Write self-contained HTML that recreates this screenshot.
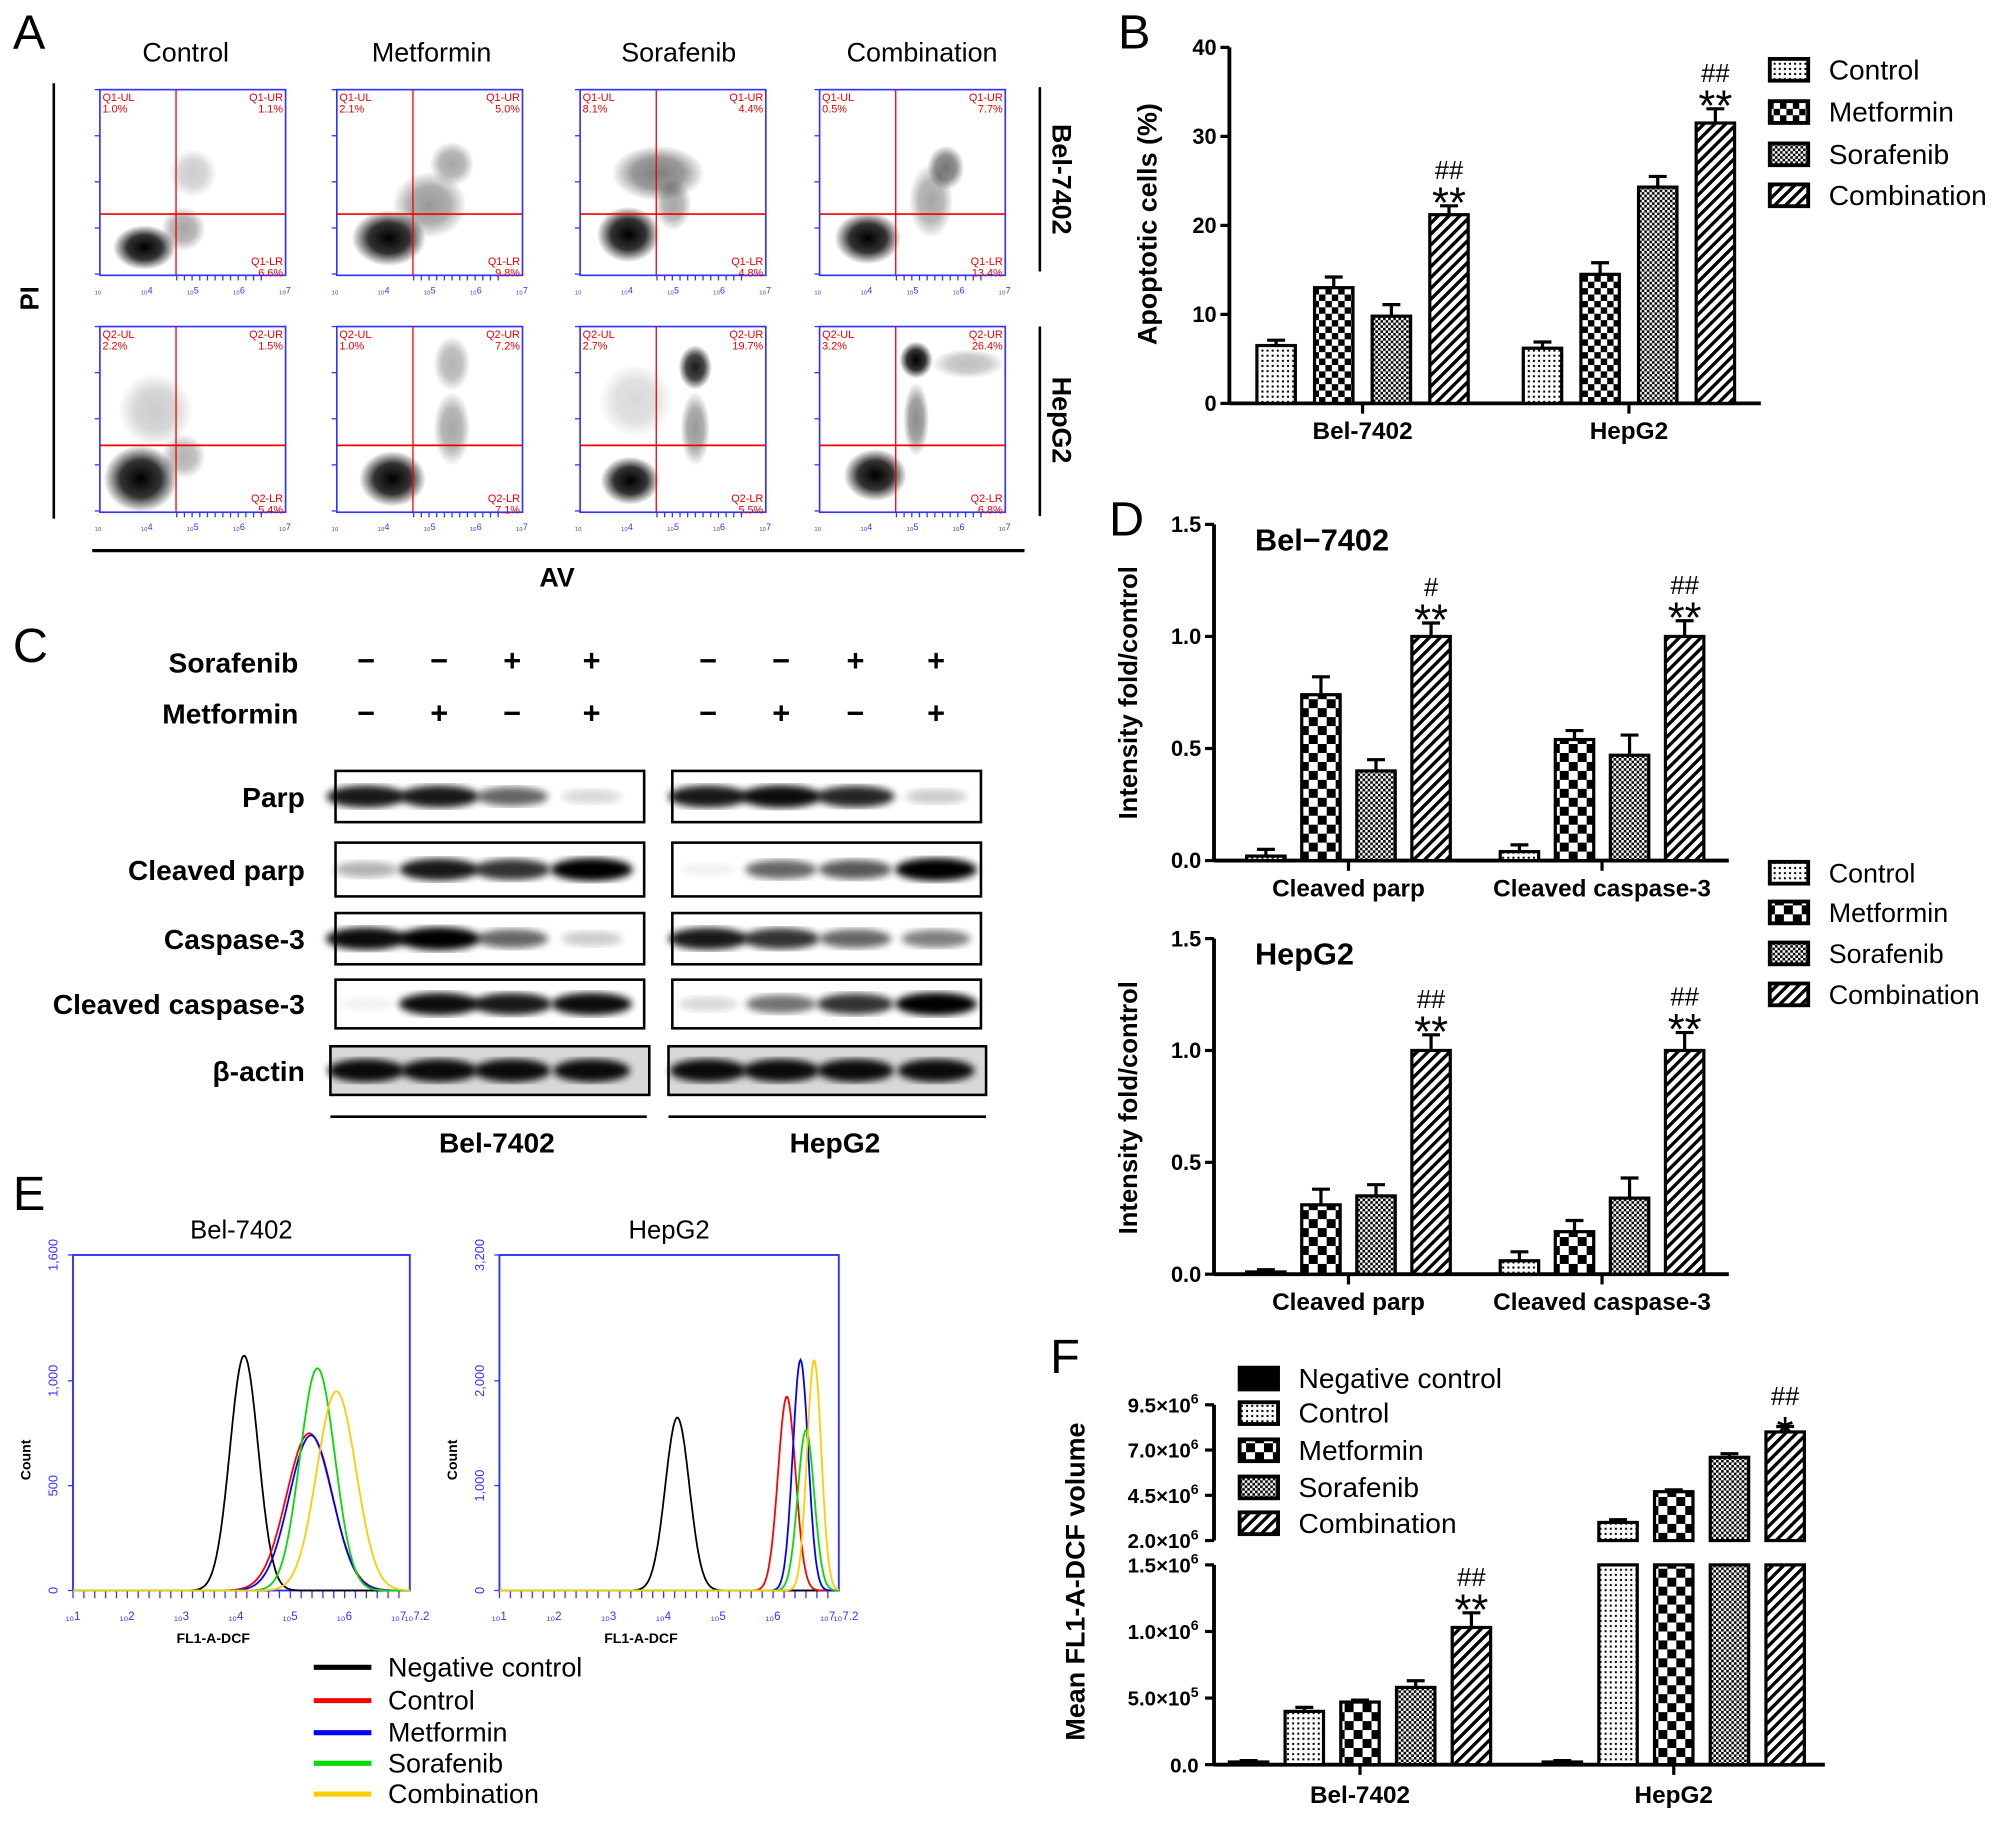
<!DOCTYPE html>
<html><head><meta charset="utf-8">
<style>
html,body{margin:0;padding:0;background:#fff;}
svg{display:block;font-family:"Liberation Sans",Arial,sans-serif;}
</style></head>
<body>
<svg id="fig" width="2008" height="1821" viewBox="0 0 1568 1422" xmlns="http://www.w3.org/2000/svg">
<defs>
<pattern id="pDots" width="4" height="4" patternUnits="userSpaceOnUse"><rect width="4" height="4" fill="#fff"/><rect x="1" y="1" width="1.6" height="1.6" fill="#000"/></pattern>
<pattern id="pBig" width="14" height="14" patternUnits="userSpaceOnUse"><rect width="14" height="14" fill="#fff"/><rect width="7" height="7" fill="#000"/><rect x="7" y="7" width="7" height="7" fill="#000"/></pattern>
<pattern id="pMid" width="10" height="10" patternUnits="userSpaceOnUse"><rect width="10" height="10" fill="#fff"/><rect width="5" height="5" fill="#000"/><rect x="5" y="5" width="5" height="5" fill="#000"/></pattern>
<pattern id="pFine" width="4" height="4" patternUnits="userSpaceOnUse"><rect width="4" height="4" fill="#fff"/><rect width="2" height="2" fill="#000"/><rect x="2" y="2" width="2" height="2" fill="#000"/></pattern>
<pattern id="pStripe" width="6" height="6" patternUnits="userSpaceOnUse" patternTransform="rotate(45)"><rect width="6" height="6" fill="#fff"/><rect width="2.6" height="6" fill="#000"/></pattern>
<radialGradient id="gCl"><stop offset="0" stop-color="#000" stop-opacity="1"/><stop offset="0.55" stop-color="#000" stop-opacity="0.8"/><stop offset="1" stop-color="#000" stop-opacity="0"/></radialGradient>
<filter id="blur2"><feGaussianBlur stdDeviation="3"/></filter>
</defs>
<g id="root"></g>
</svg>
<script>
// ---------- data ----------
var conditions = ["Control","Metformin","Sorafenib","Combination"];
var flowBelUL = ["1.0%","2.1%","8.1%","0.5%"];
var flowBelUR = ["1.1%","5.0%","4.4%","7.7%"];
var flowBelLR = ["6.6%","9.8%","4.8%","13.4%"];
var flowHepUL = ["2.2%","1.0%","2.7%","3.2%"];
var flowHepUR = ["1.5%","7.2%","19.7%","26.4%"];
var flowHepLR = ["5.4%","7.1%","5.5%","6.8%"];
var clustersBel = [
 [[0.24,0.85,0.17,0.12,1],[0.45,0.75,0.12,0.12,0.35],[0.5,0.45,0.13,0.13,0.2]],
 [[0.28,0.8,0.2,0.15,1],[0.5,0.62,0.2,0.18,0.4],[0.62,0.4,0.12,0.12,0.35]],
 [[0.26,0.78,0.17,0.15,1],[0.42,0.45,0.25,0.15,0.5],[0.5,0.62,0.1,0.14,0.35]],
 [[0.26,0.8,0.18,0.14,1],[0.6,0.6,0.12,0.2,0.35],[0.68,0.42,0.1,0.12,0.55]]];
var clustersHep = [
 [[0.22,0.82,0.2,0.18,1],[0.3,0.45,0.2,0.2,0.2],[0.45,0.7,0.12,0.12,0.3]],
 [[0.3,0.82,0.18,0.15,1],[0.62,0.55,0.1,0.2,0.35],[0.62,0.2,0.1,0.15,0.3]],
 [[0.27,0.83,0.16,0.13,1],[0.62,0.22,0.09,0.12,0.9],[0.62,0.55,0.08,0.2,0.4],[0.3,0.4,0.2,0.2,0.15]],
 [[0.3,0.8,0.17,0.14,1],[0.52,0.18,0.09,0.1,1],[0.52,0.5,0.07,0.2,0.45],[0.8,0.2,0.2,0.08,0.25]]];

var bCategories = ["Bel-7402","HepG2"];
var bValues = [[6.5,13.0,9.8,21.2],[6.2,14.5,24.3,31.5]];
var bErrors = [[0.6,1.2,1.3,1.0],[0.7,1.3,1.2,1.6]];
var bTicks = [0,10,20,30,40];
var bMarks = [["","","","##\n**"],["","","","##\n**"]];

var dCategories = ["Cleaved parp","Cleaved caspase-3"];
var dBelValues = [[0.02,0.74,0.40,1.0],[0.04,0.54,0.47,1.0]];
var dBelErrors = [[0.03,0.08,0.05,0.06],[0.03,0.04,0.09,0.07]];
var dHepValues = [[0.01,0.31,0.35,1.0],[0.06,0.19,0.34,1.0]];
var dHepErrors = [[0.01,0.07,0.05,0.07],[0.04,0.05,0.09,0.08]];
var dTicks = [0,0.5,1.0,1.5];
var dTickLabels = ["0.0","0.5","1.0","1.5"];
var dBelMarks = [["","","","#\n**"],["","","","##\n**"]];
var dHepMarks = [["","","","##\n**"],["","","","##\n**"]];

var eBelPeaks = [[4.15,1120,0.26],[5.35,750,0.42],[5.38,740,0.4],[5.5,1060,0.32],[5.85,950,0.36]];
var eHepPeaks = [[4.25,1650,0.22],[6.25,1850,0.16],[6.5,2200,0.14],[6.6,1530,0.15],[6.75,2200,0.13]];
var eSeries = ["Negative control","Control","Metformin","Sorafenib","Combination"];
var eColors = ["#000","#f00","#00f","#0d0","#fc0"];

var fCategories = ["Bel-7402","HepG2"];
var fSeries = ["Negative control","Control","Metformin","Sorafenib","Combination"];
var fValues = [[0.02e6,0.40e6,0.47e6,0.58e6,1.03e6],[0.02e6,3.0e6,4.7e6,6.6e6,8.0e6]];
var fErrors = [[0.01e6,0.03e6,0.015e6,0.05e6,0.11e6],[0.01e6,0.15e6,0.1e6,0.2e6,0.3e6]];
var fLowTicks = [0,0.5e6,1.0e6,1.5e6];
var fLowLabels = ["0.0","5.0×10","1.0×10","1.5×10"];
var fLowExp = ["","5","6","6"];
var fHighTicks = [2.0e6,4.5e6,7.0e6,9.5e6];
var fHighLabels = ["2.0×10","4.5×10","7.0×10","9.5×10"];

var blotRows = ["Parp","Cleaved parp","Caspase-3","Cleaved caspase-3","β-actin"];
var blotIntensity = [
 [0.9,0.9,0.6,0.15, 0.9,0.95,0.85,0.2],
 [0.3,0.9,0.8,1.0, 0.05,0.6,0.65,1.0],
 [0.95,1.0,0.6,0.2, 0.9,0.8,0.6,0.5],
 [0.05,0.95,0.9,0.95, 0.15,0.55,0.8,1.0],
 [0.95,0.95,0.95,0.95, 0.95,0.95,0.95,0.95]];
var sorafenibSigns = ["−","−","+","+","−","−","+","+"];
var metforminSigns = ["−","+","−","+","−","+","−","+"];

// ---------- helpers ----------
var NS="http://www.w3.org/2000/svg";
var root=document.getElementById('root');
function el(tag,attrs,parent,text){var e=document.createElementNS(NS,tag);for(var k in attrs)e.setAttribute(k,attrs[k]);if(text!==undefined)e.textContent=text;(parent||root).appendChild(e);return e;}
function txt(x,y,s,size,opts,parent){opts=opts||{};var a={x:x,y:y,'font-size':size,fill:opts.fill||'#000','text-anchor':opts.anchor||'start'};if(opts.bold)a['font-weight']='bold';if(opts.transform)a.transform=opts.transform;var t=el('text',a,parent,s);return t;}
function group(name){var g=el('g',{});return g;}

// ---------- Panel A ----------
(function(){
 var g=group('panel-a');
 var t=txt(10,38,'A',38,{},g);
 var colX=[78,263,453,640], colT=[145,337,530,720], rowY=[70,255], W=145,H=145;
 conditions.forEach(function(c,i){var tt=txt(colT[i],48,c,21,{anchor:'middle'},g);});
 var sets=[[clustersBel,flowBelUL,flowBelUR,flowBelLR,'Q1',0.67],[clustersHep,flowHepUL,flowHepUR,flowHepLR,'Q2',0.64]];
 sets.forEach(function(s,r){
  for(var i=0;i<4;i++){
   var x0=colX[i],y0=rowY[r];
   var p=group('flow-plot-'+(r?'hepg2':'bel7402')+'-'+conditions[i].toLowerCase());
   g.appendChild(p);
   s[0][i].forEach(function(b){var e=el('ellipse',{cx:x0+b[0]*W,cy:y0+b[1]*H,rx:b[2]*W,ry:b[3]*H,fill:'url(#gCl)',opacity:b[4]},p);});
   el('rect',{x:x0,y:y0,width:W,height:H,fill:'none',stroke:'#33f','stroke-width':1.3},p);
   el('line',{x1:x0+0.41*W,y1:y0,x2:x0+0.41*W,y2:y0+H,stroke:'#e00','stroke-width':1},p);
   el('line',{x1:x0,y1:y0+s[5]*H,x2:x0+W,y2:y0+s[5]*H,stroke:'#e00','stroke-width':1.3},p);
   txt(x0+2,y0+9,s[4]+'-UL',8.5,{fill:'#e00'},p);txt(x0+2,y0+18,s[1][i],8.5,{fill:'#e00'},p);
   txt(x0+W-2,y0+9,s[4]+'-UR',8.5,{fill:'#e00',anchor:'end'},p);txt(x0+W-2,y0+18,s[2][i],8.5,{fill:'#e00',anchor:'end'},p);
   txt(x0+W-2,y0+H-8,s[4]+'-LR',8.5,{fill:'#e00',anchor:'end'},p);txt(x0+W-2,y0+H+1,s[3][i],8.5,{fill:'#e00',anchor:'end'},p);
   for(var k=0;k<5;k++){txt(x0-4+k*36,y0+H+14,'₁₀'+(k?k+3:''),7,{fill:'#33f'},p);}
   for(var k=0;k<5;k++){el('line',{x1:x0-4,y1:y0+k*36,x2:x0,y2:y0+k*36,stroke:'#33f'},p);}
   for(var k=0;k<12;k++){el('line',{x1:x0+60+k*6,y1:y0+H,x2:x0+60+k*6,y2:y0+H+4,stroke:'#33f'},p);}
  }
 });
 el('line',{x1:42,y1:65,x2:42,y2:405,stroke:'#000','stroke-width':2},g);
 var pi=txt(30,233,'PI',20,{bold:true,anchor:'middle',transform:'rotate(-90 30 233)'},g);
 el('line',{x1:812,y1:68,x2:812,y2:212,stroke:'#000','stroke-width':2},g);
 el('line',{x1:812,y1:255,x2:812,y2:403,stroke:'#000','stroke-width':2},g);
 txt(822,140,'Bel-7402',21,{bold:true,anchor:'middle',transform:'rotate(90 822 140)'},g);
 txt(822,328,'HepG2',21,{bold:true,anchor:'middle',transform:'rotate(90 822 328)'},g);
 el('line',{x1:72,y1:430,x2:800,y2:430,stroke:'#000','stroke-width':2.5},g);
 var av=txt(435,458,'AV',21,{bold:true,anchor:'middle'},g);
})();

// ---------- generic bar chart ----------
function barChart(g,cfg){
 var y=function(v){return cfg.y0-(v-cfg.vmin)*cfg.k;};
 el('line',{x1:cfg.ax,y1:y(cfg.vmax),x2:cfg.ax,y2:cfg.y0,stroke:'#000','stroke-width':3},g);
 el('line',{x1:cfg.ax,y1:cfg.y0,x2:cfg.xEnd,y2:cfg.y0,stroke:'#000','stroke-width':3},g);
 cfg.ticks.forEach(function(t,i){el('line',{x1:cfg.ax-7,y1:y(t),x2:cfg.ax,y2:y(t),stroke:'#000','stroke-width':2.5},g);var l=txt(cfg.ax-10,y(t)+6,cfg.tickLabels[i],17,{bold:true,anchor:'end'},g);});
 cfg.values.forEach(function(vals,gi){
  vals.forEach(function(v,bi){
   var cx=cfg.groupX[gi]+(bi-1.5)*cfg.step, top=y(v), e=cfg.errors[gi][bi];
   el('line',{x1:cx,y1:top,x2:cx,y2:y(v+e),stroke:'#000','stroke-width':2.5},g);
   el('line',{x1:cx-7,y1:y(v+e),x2:cx+7,y2:y(v+e),stroke:'#000','stroke-width':2.5},g);
   var r=el('rect',{x:cx-cfg.bw/2,y:top,width:cfg.bw,height:Math.max(1,cfg.y0-top),fill:cfg.pats[bi],stroke:'#000','stroke-width':2.5},g);
   
   
   var m=cfg.marks[gi][bi];
   if(m){var parts=m.split('\n');txt(cx,y(v+e)-21,parts[0],20,{anchor:'middle'},g);txt(cx,y(v+e)+9,parts[1],34,{anchor:'middle'},g);}
  });
  el('line',{x1:cfg.groupX[gi],y1:cfg.y0,x2:cfg.groupX[gi],y2:cfg.y0+8,stroke:'#000','stroke-width':2.5},g);
  var cl=txt(cfg.groupX[gi],cfg.y0+28,cfg.cats[gi],19,{bold:true,anchor:'middle'},g);
 });
}
function legend(g,x,ys,labels,pats,size){
 labels.forEach(function(l,i){var r=el('rect',{x:x,y:ys[i]-9,width:30,height:17,fill:pats[i],stroke:'#000','stroke-width':3},g);var t=txt(x+46,ys[i]+7,l,size,{},g);});
}

// ---------- Panel B ----------
(function(){
 var g=group('panel-b');
 txt(873,38,'B',38,{},g);
 barChart(g,{ax:960,y0:315,vmin:0,vmax:40,k:(315-37)/40,xEnd:1375,ticks:bTicks,tickLabels:bTicks.map(String),values:bValues,errors:bErrors,groupX:[1064,1272],step:45,bw:30,pats:['url(#pDots)','url(#pMid)','url(#pFine)','url(#pStripe)'],cats:bCategories,marks:bMarks});
 txt(903,175,'Apoptotic cells (%)',21,{bold:true,anchor:'middle',transform:'rotate(-90 903 175)'},g);
 legend(g,1382,[55,88,121,153],conditions,['url(#pDots)','url(#pMid)','url(#pFine)','url(#pStripe)'],22);
})();

// ---------- Panel C ----------
(function(){
 var g=group('panel-c');
 txt(10,517,'C',38,{},g);
 txt(233,525,'Sorafenib',22,{bold:true,anchor:'end'},g);
 txt(233,565,'Metformin',22,{bold:true,anchor:'end'},g);
 var laneX=[286,343,400,462,553,610,668,731];
 laneX.forEach(function(x,i){txt(x,524,sorafenibSigns[i],24,{anchor:'middle',bold:true},g);txt(x,565,metforminSigns[i],24,{anchor:'middle',bold:true},g);});
 var rowY=[[602,642],[658,700],[713,753],[765,803],[817,855]];
 blotRows.forEach(function(name,r){
  var y0=rowY[r][0],y1=rowY[r][1],wide=(r===4);
  var boxes=wide?[[258,507],[522,770]]:[[262,503],[525,766]];
  boxes.forEach(function(b){el('rect',{x:b[0],y:y0,width:b[1]-b[0],height:y1-y0,fill:wide?'#d8d8d8':'#fff',stroke:'#000','stroke-width':2},g);});
  laneX.forEach(function(x,i){var v=blotIntensity[r][i];var bw=wide?30:(22+10*v);var e=el('ellipse',{cx:x,cy:(y0+y1)/2,rx:bw,ry:wide?9:5+4*v,fill:'#000',opacity:v,filter:'url(#blur2)'},g);});
  var lbl=txt(238,(y0+y1)/2+8,name,22,{bold:true,anchor:'end'},g);
 });
 el('line',{x1:258,y1:872,x2:505,y2:872,stroke:'#000','stroke-width':2},g);
 el('line',{x1:522,y1:872,x2:770,y2:872,stroke:'#000','stroke-width':2},g);
 txt(388,900,'Bel-7402',22,{bold:true,anchor:'middle'},g);
 txt(652,900,'HepG2',22,{bold:true,anchor:'middle'},g);
})();

// ---------- Panel D ----------
(function(){
 var g=group('panel-d');
 txt(866,418,'D',38,{},g);
 var dp=['url(#pDots)','url(#pBig)','url(#pFine)','url(#pStripe)'];
 barChart(g,{ax:948,y0:672,vmin:0,vmax:1.5,k:175,xEnd:1350,ticks:dTicks,tickLabels:dTickLabels,values:dBelValues,errors:dBelErrors,groupX:[1053,1251],step:43,bw:30,pats:dp,cats:dCategories,marks:dBelMarks});
 barChart(g,{ax:948,y0:995,vmin:0,vmax:1.5,k:174.7,xEnd:1350,ticks:dTicks,tickLabels:dTickLabels,values:dHepValues,errors:dHepErrors,groupX:[1053,1251],step:43,bw:30,pats:dp,cats:dCategories,marks:dHepMarks});
 txt(980,430,'Bel−7402',24,{bold:true},g);
 txt(980,753,'HepG2',24,{bold:true},g);
 txt(888,541,'Intensity fold/control',20,{bold:true,anchor:'middle',transform:'rotate(-90 888 541)'},g);
 txt(888,865,'Intensity fold/control',20,{bold:true,anchor:'middle',transform:'rotate(-90 888 865)'},g);
 legend(g,1382,[682,713,745,777],conditions,dp,21);
})();

// ---------- Panel E ----------
(function(){
 var g=group('panel-e');
 txt(10,945,'E',38,{},g);
 function hist(x0,x1,title,peaks,ymax,ylabels,name){
  var p=group(name);g.appendChild(p);
  var y0=1242,yt=980;
  var xs=function(l){return x0+(l-1)/6.2*(x1-x0);};
  var ys=function(v){return y0-v/ymax*(y0-yt);};
  el('rect',{x:x0,y:yt,width:x1-x0,height:y0-yt,fill:'none',stroke:'#33f','stroke-width':1.5},p);
  txt((x0+x1)/2,967,title,20,{anchor:'middle'},p);
  ylabels.forEach(function(l){txt(x0-12,ys(l[0]),l[1],10,{fill:'#33f',anchor:'middle',transform:'rotate(-90 '+(x0-12)+' '+ys(l[0])+')'},p);el('line',{x1:x0-4,y1:ys(l[0]),x2:x0,y2:ys(l[0]),stroke:'#33f'},p);});
  for(var d=1;d<=7;d++){txt(xs(d)-6,1265,'₁₀'+d,9,{fill:'#33f'},p);}
  for(var d=1;d<7.2;d+=0.2){el('line',{x1:xs(d),y1:y0,x2:xs(d),y2:y0+6,stroke:'#33f'},p);}
  txt(xs(7.2)-4,1265,'₁₀7.2',9,{fill:'#33f'},p);
  txt((x0+x1)/2-22,1283,'FL1-A-DCF',11,{bold:true,anchor:'middle'},p);
  txt(x0-33,1140,'Count',11,{bold:true,anchor:'middle',transform:'rotate(-90 '+(x0-33)+' 1140)'},p);
  peaks.forEach(function(pk,i){
   var d='';
   for(var l=1;l<=7.2;l+=0.02){var v=pk[1]*Math.exp(-0.5*Math.pow((l-pk[0])/pk[2],2));d+=(d?'L':'M')+xs(l).toFixed(1)+','+ys(v).toFixed(1);}
   var path=el('path',{d:d,fill:'none',stroke:eColors[i],'stroke-width':1.4},p);
   
   
  });
 }
 hist(57,320,'Bel-7402',eBelPeaks,1600,[[0,'0'],[500,'500'],[1000,'1,000'],[1600,'1,600']],'histogram-bel7402');
 hist(390,655,'HepG2',eHepPeaks,3200,[[0,'0'],[1000,'1,000'],[2000,'2,000'],[3200,'3,200']],'histogram-hepg2');
 var ly=[1302,1328,1353,1377,1401];
 eSeries.forEach(function(s,i){el('line',{x1:245,y1:ly[i],x2:290,y2:ly[i],stroke:eColors[i],'stroke-width':4},g);var t=txt(303,ly[i]+7,s,21,{},g);});
})();

// ---------- Panel F ----------
(function(){
 var g=group('panel-f');
 txt(820,1072,'F',38,{},g);
 var ax=948,y0=1378,kL=104/1e6,yBrk=1203,kH=(1203-1097)/7.5e6;
 function yv(v){return v<=1.5e6?y0-v*kL:yBrk-(v-2e6)*kH;}
 el('line',{x1:ax,y1:1222,x2:ax,y2:y0,stroke:'#000','stroke-width':3},g);
 el('line',{x1:ax,y1:1097,x2:ax,y2:1203,stroke:'#000','stroke-width':3},g);
 el('line',{x1:ax,y1:y0,x2:1425,y2:y0,stroke:'#000','stroke-width':3},g);
 fLowTicks.forEach(function(t,i){el('line',{x1:ax-7,y1:yv(t),x2:ax,y2:yv(t),stroke:'#000','stroke-width':2.5},g);var l=txt(ax-12,yv(t)+6,fLowLabels[i],16,{bold:true,anchor:'end'},g);if(fLowExp[i]){el('tspan',{dy:-7,'font-size':11},l,fLowExp[i]);}});
 fHighTicks.forEach(function(t,i){el('line',{x1:ax-7,y1:yv(t),x2:ax,y2:yv(t),stroke:'#000','stroke-width':2.5},g);var l=txt(ax-12,yv(t)+6,fHighLabels[i],16,{bold:true,anchor:'end'},g);el('tspan',{dy:-7,'font-size':11},l,'6');});
 var pats=['#000','url(#pDots)','url(#pBig)','url(#pFine)','url(#pStripe)'];
 var gx=[1062,1307],step=43.5,bw=30;
 fValues.forEach(function(vals,gi){
  vals.forEach(function(v,bi){
   var cx=gx[gi]+(bi-2)*step,e=fErrors[gi][bi],top=yv(v);
   el('line',{x1:cx,y1:top,x2:cx,y2:yv(v+e),stroke:'#000','stroke-width':2.5},g);
   el('line',{x1:cx-7,y1:yv(v+e),x2:cx+7,y2:yv(v+e),stroke:'#000','stroke-width':2.5},g);
   var r;
   if(v>1.5e6){
    r=el('rect',{x:cx-bw/2,y:1222,width:bw,height:y0-1222,fill:pats[bi],stroke:'#000','stroke-width':2.5},g);
    el('rect',{x:cx-bw/2,y:top,width:bw,height:yBrk-top,fill:pats[bi],stroke:'#000','stroke-width':2.5},g);
    el('rect',{x:cx-bw/2-3,y:yBrk+1.5,width:bw+6,height:1222-yBrk-3,fill:'#fff'},g);
   } else {
    r=el('rect',{x:cx-bw/2,y:top,width:bw,height:Math.max(2,y0-top),fill:pats[bi],stroke:'#000','stroke-width':2.5},g);
   }
   
   
  });
  el('line',{x1:gx[gi],y1:y0,x2:gx[gi],y2:y0+8,stroke:'#000','stroke-width':2.5},g);
  var cl=txt(gx[gi],y0+30,fCategories[gi],19,{bold:true,anchor:'middle'},g);
 });
 var c1=gx[0]+2*step, c2=gx[1]+2*step;
 txt(c1,yv(fValues[0][4]+fErrors[0][4])-21,'##',20,{anchor:'middle'},g);
 txt(c1,yv(fValues[0][4]+fErrors[0][4])+9,'**',34,{anchor:'middle'},g);
 txt(c2,yv(fValues[1][4]+fErrors[1][4])-17,'##',20,{anchor:'middle'},g);
 txt(c2,yv(fValues[1][4]+fErrors[1][4])+16,'*',34,{anchor:'middle'},g);
 txt(847,1235,'Mean FL1-A-DCF volume',21,{bold:true,anchor:'middle',transform:'rotate(-90 847 1235)'},g);
 legend(g,968,[1077,1104,1133,1162,1190],fSeries,pats,22);
})();
</script>
</body></html>
